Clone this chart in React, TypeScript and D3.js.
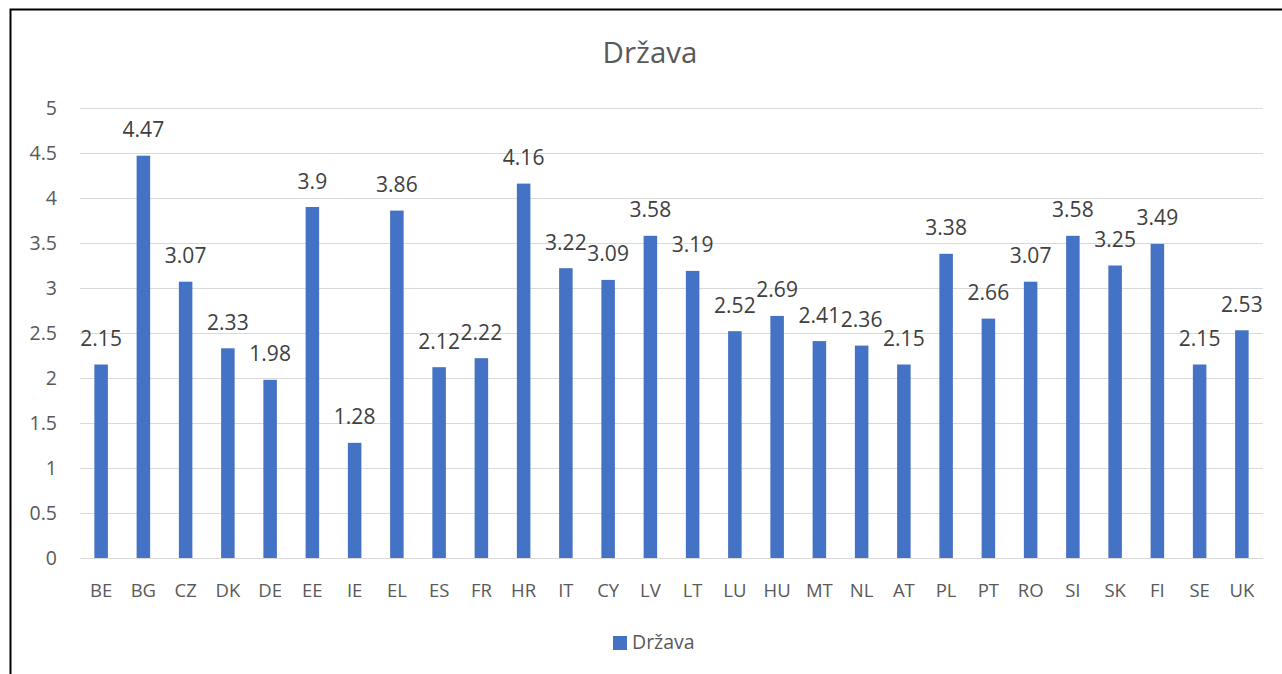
import { useEffect, useRef } from 'react'
import * as d3 from 'd3'

// country codes and the values
const categories = ['BE', 'BG', 'CZ', 'DK', 'DE', 'EE', 'IE', 'EL', 'ES', 'FR', 'HR', 'IT', 'CY', 'LV', 'LT', 'LU', 'HU', 'MT', 'NL', 'AT', 'PL', 'PT', 'RO', 'SI', 'SK', 'FI', 'SE', 'UK']
const values = [2.15, 4.47, 3.07, 2.33, 1.98, 3.9, 1.28, 3.86, 2.12, 2.22, 4.16, 3.22, 3.09, 3.58, 3.19, 2.52, 2.69, 2.41, 2.36, 2.15, 3.38, 2.66, 3.07, 3.58, 3.25, 3.49, 2.15, 2.53]
const yTicks = [0, 0.5, 1, 1.5, 2, 2.5, 3, 3.5, 4, 4.5, 5]
const seriesName = 'Država'

const W = 1282
const H = 674
const FONT = '"Open Sans", "Noto Sans", sans-serif'
const TEXT = '#595959'
const BAR = '#4472C4'

export default function App() {
  const ref = useRef<SVGSVGElement>(null)

  useEffect(() => {
    const svg = d3.select(ref.current)
    svg.selectAll('*').remove()

    const plot = { left: 80, right: 1263, top: 108, bottom: 558 }

    const x = d3.scaleBand<string>().domain(categories).range([plot.left, plot.right]).paddingInner(0.68).paddingOuter(0.34)
    const y = d3.scaleLinear().domain([0, 5]).range([plot.bottom, plot.top])

    // outer frame (runs past the right/bottom edge like the original)
    svg.append('rect')
      .attr('x', 10.5).attr('y', 9.5)
      .attr('width', W + 20).attr('height', H + 20)
      .attr('fill', '#fff').attr('stroke', '#000').attr('stroke-width', 2)

    svg.append('text')
      .attr('x', 650).attr('y', 63)
      .attr('text-anchor', 'middle')
      .style('font-family', FONT).style('font-size', '29.5px').attr('fill', TEXT)
      .text(seriesName)

    // grid
    svg.append('g').selectAll('line').data(yTicks).enter().append('line')
      .attr('x1', plot.left).attr('x2', plot.right)
      .attr('y1', d => Math.round(y(d)) + 0.5).attr('y2', d => Math.round(y(d)) + 0.5)
      .attr('stroke', '#d9d9d9').attr('stroke-width', 1)

    // y labels
    svg.append('g').selectAll('text').data(yTicks).enter().append('text')
      .attr('x', 57).attr('y', d => y(d))
      .attr('dy', '0.37em')
      .attr('text-anchor', 'end')
      .style('font-family', FONT).style('font-size', '19.5px').attr('fill', TEXT)
      .text(d => String(d))

    const rows = categories.map((c, i) => ({ c, v: values[i] }))

    svg.append('g').selectAll('rect').data(rows).enter().append('rect')
      .attr('x', d => x(d.c)!)
      .attr('y', d => y(d.v))
      .attr('width', x.bandwidth())
      .attr('height', d => y(0) - y(d.v))
      .attr('fill', BAR)

    // data labels
    svg.append('g').selectAll('text').data(rows).enter().append('text')
      .attr('x', d => x(d.c)! + x.bandwidth() / 2)
      .attr('y', d => y(d.v) - 18.5)
      .attr('text-anchor', 'middle')
      .style('font-family', FONT).style('font-size', '21px').attr('fill', '#404040')
      .text(d => String(d.v))

    // category labels
    svg.append('g').selectAll('text').data(categories).enter().append('text')
      .attr('x', d => x(d)! + x.bandwidth() / 2)
      .attr('y', 597)
      .attr('text-anchor', 'middle')
      .style('font-family', FONT).style('font-size', '18.5px').attr('fill', TEXT)
      .text(d => d)

    // legend
    const lg = svg.append('g')
    lg.append('rect').attr('x', 613).attr('y', 636).attr('width', 14).attr('height', 14).attr('fill', BAR)
    lg.append('text').attr('x', 632).attr('y', 649)
      .style('font-family', FONT).style('font-size', '19.5px').attr('fill', TEXT)
      .text(seriesName)
  }, [])

  return <svg ref={ref} width={W} height={H} style={{ position: 'absolute', left: 0, top: 0 }} />
}
